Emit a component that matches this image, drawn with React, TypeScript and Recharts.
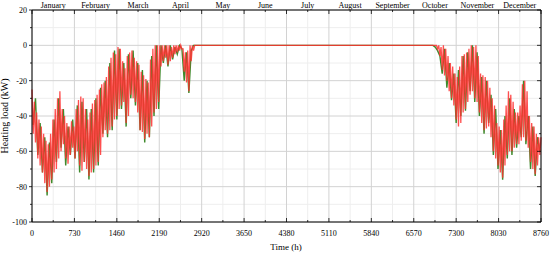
import { LineChart, Line, XAxis, YAxis, CartesianGrid } from "recharts";

const FONT = "'Liberation Serif', 'Times New Roman', serif";

// hour-of-year axis
const hourTicks = [0, 730, 1460, 2190, 2920, 3650, 4380, 5110, 5840, 6570, 7300, 8030, 8760];
const hourMinorTicks = [365, 1095, 1825, 2555, 3285, 4015, 4745, 5475, 6205, 6935, 7665, 8395];
const monthNames = [
  "January", "February", "March", "April", "May", "June",
  "July", "August", "September", "October", "November", "December",
];

const loadTicks = [20, 0, -20, -40, -60, -80, -100];
const loadMinorTicks = [10, -10, -30, -50, -70, -90];

// red series: samples every 20 h (kW), zero through the summer
const RED_STEP = 20;
const redSpringStart = 0; // Jan - Apr
const redSpringLoad = [
  -25, -50, -32, -55, -38, -64, -42, -68, -46, -72,
  -50, -78, -54, -83, -56, -80, -50, -76, -42, -72,
  -36, -70, -30, -64, -26, -60, -36, -56, -40, -64,
  -44, -67, -46, -62, -43, -58, -46, -64, -36, -60,
  -31, -68, -29, -71, -30, -66, -36, -70, -42, -74,
  -38, -72, -33, -70, -31, -68, -28, -66, -25, -62,
  -22, -52, -21, -48, -18, -50, -12, -48, -7, -46,
  -4, -42, -5, -40, -1, -36, -2, -34, -9, -32,
  -13, -44, -6, -40, -4, -28, -3, -30, -7, -32,
  -9, -38, -11, -48, -15, -49, -17, -53, -19, -50,
  -21, -52, -8, -46, -2, -38, 0, -36, 0, -32,
  0, -12, 0, -9, 0, -7, 0, -11, 0, -9,
  -1, -7, 0, -5, 0, -4, 0, -3, 0, -2,
  -2, -15, -4, -21, -3, -26, 0, -9, 0, -3,
  0, 0,
];
const redAutumnStart = 6880; // Oct - Dec
const redAutumnLoad = [
  0, 0, 0, 0, 0, -2, 0, -6, -1, -14,
  0, -17, -2, -20, -6, -26, -10, -30, -12, -34,
  -16, -42, -18, -46, -12, -44, -6, -38, -5, -36,
  -4, -32, -2, -28, 0, -26, -1, -30, 0, -32,
  -6, -38, -16, -44, -17, -48, -18, -47, -20, -46,
  -24, -52, -30, -60, -34, -64, -44, -68, -46, -72,
  -48, -75, -42, -68, -34, -62, -26, -60, -28, -60,
  -32, -58, -38, -56, -38, -56, -34, -54, -22, -52,
  -20, -54, -26, -58, -40, -66, -44, -70, -46, -73,
  -50, -68, -52, -62, -52,
];

// green series: samples every 40 h (kW)
const GREEN_STEP = 40;
const greenSpringStart = 20;
const greenSpringLoad = [
  -45, -30, -62, -44, -72, -52, -85, -55, -78, -42,
  -66, -30, -58, -36, -68, -46, -62, -42, -64, -34,
  -72, -32, -66, -36, -76, -36, -72, -30, -68, -24,
  -50, -20, -52, -10, -48, -3, -42, -2, -36, -10,
  -46, -5, -30, -3, -34, -10, -48, -14, -55, -20,
  -52, -6, -40, 0, -36, 0, -10, 0, -12, 0,
  -8, -1, -5, 0, -2, -20, -4, -27, -3, 0,
];
const greenAutumnStart = 6900;
const greenAutumnLoad = [
  0, -1, -3, -6, -16, -2, -24, -10, -31, -16,
  -44, -14, -40, -6, -37, -4, -26, 0, -32, -4,
  -40, -18, -50, -20, -44, -28, -62, -36, -70, -48,
  -76, -40, -64, -30, -62, -36, -58, -40, -52, -20,
  -56, -40, -70, -46, -74, -52, -60,
];

const toPoints = (start: number, step: number, values: number[]) =>
  values.map((v, i) => ({ h: start + i * step, v }));

const redData = [
  ...toPoints(redSpringStart, RED_STEP, redSpringLoad),
  ...toPoints(redAutumnStart, RED_STEP, redAutumnLoad),
];
const greenData = [
  ...toPoints(greenSpringStart, GREEN_STEP, greenSpringLoad),
  ...toPoints(greenAutumnStart, GREEN_STEP, greenAutumnLoad),
];

const allHourTicks = [...hourTicks, ...hourMinorTicks].sort((a, b) => a - b);
const allLoadTicks = [...loadTicks, ...loadMinorTicks].sort((a, b) => a - b);

function BottomTick({ x, y, payload }: any) {
  const major = payload.value % 730 === 0;
  return (
    <g>
      <line x1={x} x2={x} y1={y} y2={y - (major ? 4 : 2)} stroke="#000" strokeWidth={0.8} />
      {major && (
        <text x={x} y={y + 14} textAnchor="middle" fontSize={8} fontFamily={FONT} fill="#000">
          {payload.value}
        </text>
      )}
    </g>
  );
}

function TopTick({ x, y, payload }: any) {
  const major = payload.value % 730 === 0;
  const idx = Math.round((payload.value - 365) / 730);
  return (
    <g>
      <line x1={x} x2={x} y1={y} y2={y + (major ? 4 : 2)} stroke="#000" strokeWidth={0.8} />
      {!major && (
        <text x={x} y={y - 2} textAnchor="middle" fontSize={8} fontFamily={FONT} fill="#000">
          {monthNames[idx]}
        </text>
      )}
    </g>
  );
}

function LeftTick({ x, y, payload }: any) {
  const major = payload.value % 20 === 0;
  return (
    <g>
      <line x1={x} x2={x - (major ? 3 : 2)} y1={y} y2={y} stroke="#000" strokeWidth={0.8} />
      {major && (
        <text x={x - 5} y={y + 3} textAnchor="end" fontSize={8} fontFamily={FONT} fill="#000">
          {payload.value}
        </text>
      )}
    </g>
  );
}

function RightTick({ x, y, payload }: any) {
  const major = payload.value % 20 === 0;
  return <line x1={x} x2={x - (major ? 4 : 2)} y1={y} y2={y} stroke="#000" strokeWidth={0.8} />;
}

export default function App() {
  return (
    <div style={{ position: "absolute", left: 0, top: 0, width: 550, height: 255, background: "#fff" }}>
      <LineChart width={550} height={255} margin={{ top: 0, right: 0, bottom: 0, left: 0 }}>
        <CartesianGrid
          xAxisId="b"
          yAxisId="l"
          stroke="#eeeeee"
          verticalValues={hourMinorTicks}
          horizontalValues={loadMinorTicks}
        />
        <CartesianGrid
          xAxisId="b"
          yAxisId="l"
          stroke="#d2d2d2"
          verticalValues={hourTicks}
          horizontalValues={loadTicks}
        />
        <XAxis
          xAxisId="b"
          dataKey="h"
          type="number"
          domain={[0, 8760]}
          ticks={allHourTicks}
          interval={0}
          height={33}
          tickSize={0}
          tickMargin={0}
          tickLine={false}
          axisLine={{ stroke: "#000" }}
          tick={<BottomTick />}
          label={() => (
            <text x={286} y={250} textAnchor="middle" fontSize={9} fontFamily={FONT} fill="#000">
              Time (h)
            </text>
          )}
        />
        <XAxis
          xAxisId="t"
          orientation="top"
          dataKey="h"
          type="number"
          domain={[0, 8760]}
          ticks={allHourTicks}
          interval={0}
          height={10}
          tickSize={0}
          tickMargin={0}
          tickLine={false}
          axisLine={{ stroke: "#000" }}
          tick={<TopTick />}
        />
        <YAxis
          yAxisId="l"
          type="number"
          domain={[-100, 20]}
          ticks={allLoadTicks}
          interval={0}
          width={32}
          tickSize={0}
          tickMargin={0}
          tickLine={false}
          axisLine={{ stroke: "#000" }}
          tick={<LeftTick />}
          label={() => (
            <text
              x={8}
              y={116}
              transform="rotate(-90 8 116)"
              textAnchor="middle"
              fontSize={10}
              fontFamily={FONT}
              fill="#000"
            >
              Heating load (kW)
            </text>
          )}
        />
        <YAxis
          yAxisId="r"
          orientation="right"
          type="number"
          domain={[-100, 20]}
          ticks={allLoadTicks}
          interval={0}
          width={9}
          tickSize={0}
          tickMargin={0}
          tickLine={false}
          axisLine={{ stroke: "#000" }}
          tick={<RightTick />}
        />
        {/* invisible series so the top / right frame axes get ticks */}
        <Line
          xAxisId="t"
          yAxisId="r"
          data={greenData}
          dataKey="v"
          stroke="none"
          dot={false}
          isAnimationActive={false}
        />
        <Line
          xAxisId="b"
          yAxisId="l"
          data={greenData}
          dataKey="v"
          stroke="#3f8a2c"
          strokeWidth={1.4}
          dot={false}
          isAnimationActive={false}
        />
        <Line
          xAxisId="b"
          yAxisId="l"
          data={redData}
          dataKey="v"
          stroke="#ff3030"
          strokeOpacity={0.85}
          strokeWidth={1.3}
          dot={false}
          isAnimationActive={false}
        />
      </LineChart>
    </div>
  );
}
